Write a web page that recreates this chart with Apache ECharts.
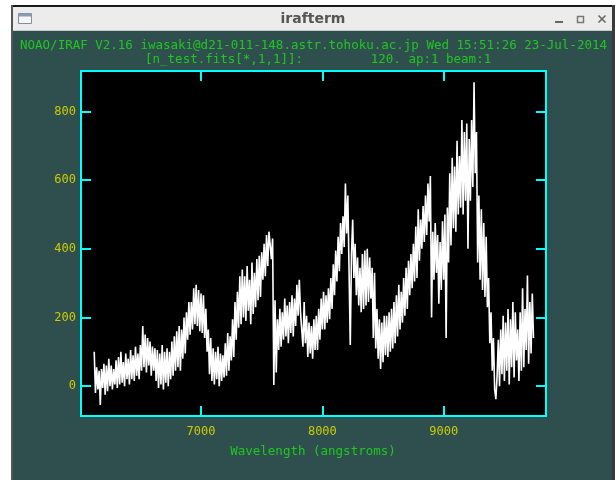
<!DOCTYPE html>
<html>
<head>
<meta charset="utf-8">
<script src="https://cdn.jsdelivr.net/npm/echarts@6.0.0/dist/echarts.min.js"></script>
<style>
html,body{margin:0;padding:0;background:#fff;}
#chart{width:615px;height:480px;}
</style>
</head>
<body>
<div id="chart"></div>
<script>
// ---- data ----
const windowTitle = 'irafterm';
const headerLine1 = 'NOAO/IRAF V2.16 iwasaki@d21-011-148.astr.tohoku.ac.jp Wed 15:51:26 23-Jul-2014';
const headerLine2 = '[n_test.fits[*,1,1]]:         120. ap:1 beam:1';
const xAxisTitle = 'Wavelength (angstroms)';
const xTicks = [7000, 8000, 9000];
const yTicks = [0, 200, 400, 600, 800];
const xRange = [6011, 9843];
const yRange = [-87, 918];

// dispersion solution of the spectrum: wavelength = waveStart + i * waveStep
const waveStart = 6120;
const waveStep = 10;
// flux per pixel, one row = 100 angstroms
const flux = [
 100, -20,  55, -10,  45, -55,  50,  -5,  65, -25,   // 6120
  60, -15,  80,   0,  60, -10,  50,   5,  75,  -5,   // 6220
  85,   5, 100,  10,  70,   0,  95,  20,  80,   5,   // 6320
 105,  20,  90,  15, 115,  30,  95,  20, 120,  45,   // 6420
 175,  55, 150,  40, 140,  60, 130,  30, 115,  45,   // 6520
 110,  15, 105,  -5,  95,   5, 120, -10, 100,  10,   // 6620
 110,   0, 100,  20, 130,  30, 145,  45, 160,  55,   // 6720
 175,  45, 165,  80, 200,  95, 215, 135, 245, 150,   // 6820
 245, 165, 285, 180, 295, 175, 280, 160, 270, 155,   // 6920
 265, 140, 225, 100, 165,  35, 140,  15, 110,   5,   // 7020
 100,  20, 115,   0,  95,  15,  90,  25, 125,  30,   // 7120
 155,  45, 145,  75, 195,  85, 245, 135, 275, 170,   // 7220
 320, 180, 340, 200, 320, 190, 350, 220, 310, 180,   // 7320
 360, 210, 330, 230, 370, 250, 380, 260, 390, 310,   // 7420
 415, 320, 440, 350, 450, 455, 370, 430,   3, 250,   // 7520
  40, 195, 105, 225, 115, 215, 135, 255, 145, 235,   // 7620
 125, 245, 155, 265, 145, 255, 175, 295, 205, 310,   // 7720
 215, 215, 115, 245, 125, 205,  85, 185,  95, 175,   // 7820
  80, 195, 105, 205, 105, 225, 135, 255, 165, 275,   // 7920
 165, 265, 185, 285, 195, 315, 225, 355, 265, 395,   // 8020
 305, 435, 335, 475, 385, 495, 405, 590, 445, 555,   // 8120
 550, 120, 385, 485, 315, 415, 265, 375, 235, 345,   // 8220
 215, 385, 225, 395, 235, 400, 245, 375, 255, 345,   // 8320
 140, 330, 110, 225,  80, 195,  50, 185,  70, 205,   // 8420
  90, 205,  85, 215, 100, 225, 110, 245, 125, 265,   // 8520
 145, 295, 165, 275, 185, 315, 205, 345, 225, 365,   // 8620
 265, 385, 285, 415, 305, 465, 315, 515, 365, 485,   // 8720
 400, 525, 420, 555, 440, 590, 480, 612, 200, 450,   // 8820
 310, 475, 330, 440, 240, 420, 280, 480, 310, 500,   // 8920
 140, 520, 360, 620, 410, 665, 460, 640, 450, 715,   // 9020
 500, 670, 520, 775, 500, 740, 540, 765, 400, 720,   // 9120
 540, 775, 580, 885, 620, 740, 360, 555, 310, 515,   // 9220
 280, 475, 260, 435, 230, 315, 125, 215,  45, 140,   // 9320
 -10, -38,  30, 135,   0, 165,  35, 205,  15, 185,   // 9420
  45, 225,   5, 195,  55, 245,  25, 215,  75, 165,   // 9520
  15, 215,  45, 285,  55, 225, 105, 322,  65, 245,   // 9620
  95, 270, 140                                       // 9720
];

// ---- styles ----
const CYAN = '#00ffff';
const YELLOW = '#cccc00';
const GREEN = '#1fc81f';
const MONO = 'DejaVu Sans Mono';

const spectrum = flux.map(function (f, i) { return [waveStart + i * waveStep, f]; });

const chart = echarts.init(document.getElementById('chart'), null, {renderer: 'canvas'});

function tickAxis(position, range, ticks, withLabels, margin) {
  return {
    type: 'value',
    position: position,
    min: range[0], max: range[1],
    axisLine: {show: false, onZero: false},
    splitLine: {show: false},
    axisTick: {show: true, inside: true, length: 10, customValues: ticks, lineStyle: {color: CYAN, width: 2}},
    axisLabel: withLabels ? {
      show: true, customValues: ticks, color: YELLOW, fontFamily: MONO, fontSize: 12, margin: margin,
      formatter: function (v) { return String(v); }
    } : {show: false}
  };
}

const option = {
  animation: false,
  backgroundColor: '#2f4f4f',
  grid: {
    left: 81, top: 71, width: 465, height: 345,
    show: true, backgroundColor: '#000000', borderColor: CYAN, borderWidth: 2
  },
  xAxis: [
    tickAxis('bottom', xRange, xTicks, true, 10),
    tickAxis('top', xRange, xTicks, false, 0)
  ],
  yAxis: [
    tickAxis('left', yRange, yTicks, true, 5),
    tickAxis('right', yRange, yTicks, false, 0)
  ],
  series: [{
    type: 'line',
    xAxisIndex: 0, yAxisIndex: 0,
    data: spectrum,
    showSymbol: false, symbol: 'none',
    lineStyle: {color: '#ffffff', width: 1.6},
    silent: true, clip: true
  }],
  graphic: [
    // page outside the window
    {type: 'rect', shape: {x: 0, y: 0, width: 12, height: 480}, style: {fill: '#ffffff'}},
    {type: 'rect', shape: {x: 0, y: 0, width: 615, height: 5}, style: {fill: '#ffffff'}},
    // window frame
    {type: 'rect', shape: {x: 11, y: 5, width: 604, height: 2}, style: {fill: '#1a1a1a'}},
    {type: 'rect', shape: {x: 11, y: 5, width: 2, height: 475}, style: {fill: '#555555'}},
    {type: 'rect', shape: {x: 612, y: 5, width: 3, height: 475}, style: {fill: '#3a3a3a'}},
    // title bar
    {type: 'rect', shape: {x: 13, y: 7, width: 599, height: 24}, style: {fill: '#ececec'}},
    {type: 'rect', shape: {x: 13, y: 30, width: 599, height: 1}, style: {fill: '#c8c8c8'}},
    {type: 'text', x: 313, y: 19, style: {text: windowTitle, fill: '#555555', font: 'bold 14px "DejaVu Sans"', align: 'center', verticalAlign: 'middle'}},
    // window icon
    {type: 'rect', shape: {x: 18.5, y: 13.5, width: 13, height: 10}, style: {fill: '#f6f6f6', stroke: '#7f8ea6', lineWidth: 1}},
    {type: 'rect', shape: {x: 18.5, y: 13.5, width: 13, height: 3}, style: {fill: '#8b9bb3'}},
    // window buttons
    {type: 'line', shape: {x1: 555, y1: 22, x2: 563, y2: 22}, style: {stroke: '#666666', lineWidth: 2}},
    {type: 'rect', shape: {x: 577.5, y: 16.5, width: 6, height: 6}, style: {fill: 'none', stroke: '#777777', lineWidth: 1.5}},
    {type: 'line', shape: {x1: 598.5, y1: 15.5, x2: 605.5, y2: 22.5}, style: {stroke: '#666666', lineWidth: 1.6}},
    {type: 'line', shape: {x1: 605.5, y1: 15.5, x2: 598.5, y2: 22.5}, style: {stroke: '#666666', lineWidth: 1.6}},
    // IRAF header
    {type: 'text', x: 20, y: 46, style: {text: headerLine1, fill: GREEN, font: '12.5px "DejaVu Sans Mono"', align: 'left', verticalAlign: 'middle'}},
    {type: 'text', x: 145, y: 60, style: {text: headerLine2, fill: GREEN, font: '12.5px "DejaVu Sans Mono"', align: 'left', verticalAlign: 'middle'}},
    // axis title
    {type: 'text', x: 313, y: 452, style: {text: xAxisTitle, fill: GREEN, font: '12.5px "DejaVu Sans Mono"', align: 'center', verticalAlign: 'middle'}}
  ]
};
chart.setOption(option);
</script>
</body>
</html>
